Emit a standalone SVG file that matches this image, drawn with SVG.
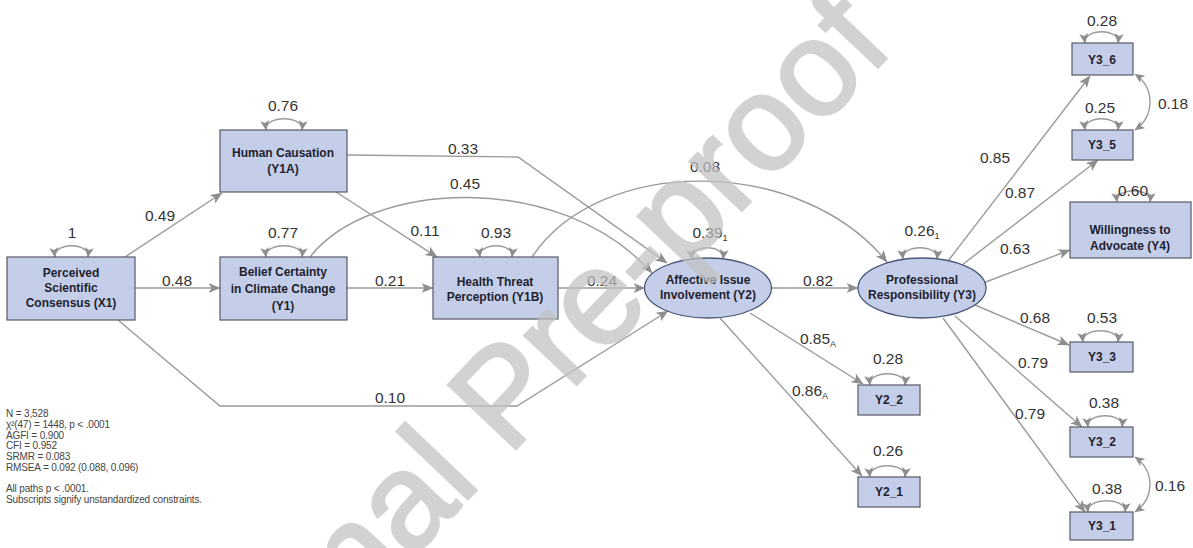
<svg xmlns="http://www.w3.org/2000/svg" width="1193" height="548" viewBox="0 0 1193 548">
<style>
.nd{fill:#c5cee9;stroke:#555a66;stroke-width:1.2}
.el{fill:#c5cee9;stroke:#4a587a;stroke-width:1.3}
.nt{font-family:"Liberation Sans",Arial,sans-serif;font-size:12px;font-weight:bold;fill:#1e2230;text-anchor:middle}
.ed{fill:none;stroke:#9a9a9a;stroke-width:1.4;marker-end:url(#ah)}
.lp{fill:none;stroke:#9a9a9a;stroke-width:1.4;marker-start:url(#ahs);marker-end:url(#ahs)}
.lb{font-family:"Liberation Sans",Arial,sans-serif;font-size:15.5px;fill:#333;text-anchor:middle}
.st{font-family:"Liberation Sans",Arial,sans-serif;font-size:10px;letter-spacing:-0.15px;fill:#444}
.wm{font-family:"Liberation Sans",Arial,sans-serif;font-size:135px;fill:#c2c2c2;stroke:#c2c2c2;stroke-width:3;opacity:0.72}
</style>
<defs>
<marker id="ah" viewBox="0 0 12 10" refX="11.5" refY="5" markerWidth="12" markerHeight="10" markerUnits="userSpaceOnUse" orient="auto-start-reverse"><path d="M0,0 L12,5 L0,10 L3,5 z" fill="#8e8e8e"/></marker>
<marker id="ahs" viewBox="0 0 10 9" refX="9.5" refY="4.5" markerWidth="10" markerHeight="9" markerUnits="userSpaceOnUse" orient="auto-start-reverse"><path d="M0,0 L10,4.5 L0,9 L2.5,4.5 z" fill="#8e8e8e"/></marker>
</defs>
<rect width="1193" height="548" fill="#ffffff"/>

<g id="connectors">
<path class="ed" d="M125,257 L222,193"/>
<path class="ed" d="M135,288 L220,288"/>
<path class="ed" d="M347,288 L433,288"/>
<path class="ed" d="M336,192 L437,257"/>
<path class="ed" d="M347,155 L518,157 L667,263"/>
<path class="ed" d="M310,257 C370,180 560,170 652,273"/>
<path class="ed" d="M532,257 C600,155 800,155 887,262"/>
<path class="ed" d="M558,288 L645,288"/>
<path class="ed" d="M118,320 L220,406 L517,406 L668,311"/>
<path class="ed" d="M772,288 L858,288"/>
<path class="ed" d="M750,313 L863,384"/>
<path class="ed" d="M720,318 L862,476"/>
<path class="ed" d="M948,261 L1090,76"/>
<path class="ed" d="M962,265 L1098,160"/>
<path class="ed" d="M983,283 L1070,250"/>
<path class="ed" d="M975,305 L1069,345"/>
<path class="ed" d="M955,316 L1082,427"/>
<path class="ed" d="M943,318 L1085,512"/>
<!-- variances -->
<path class="lp" d="M55,257 C53,242 90,242 88,257"/>
<path class="lp" d="M266,130 C264,115 304,115 302,130"/>
<path class="lp" d="M266,257 C264,242 304,242 302,257"/>
<path class="lp" d="M480,257 C478,242 514,242 512,257"/>
<path class="lp" d="M692,259 C690,244 725,244 723,259"/>
<path class="lp" d="M903,259 C901,244 939,244 937,259"/>
<path class="lp" d="M1085,43 C1083,28 1120,28 1118,43"/>
<path class="lp" d="M1085,130 C1083,115 1120,115 1118,130"/>
<path class="lp" d="M1117,202 C1115,187 1152,187 1150,202"/>
<path class="lp" d="M1083,342 C1081,327 1120,327 1118,342"/>
<path class="lp" d="M1088,427 C1086,412 1124,412 1122,427"/>
<path class="lp" d="M1088,512 C1086,497 1127,497 1125,512"/>
<path class="lp" d="M870,385 C868,370 907,370 905,385"/>
<path class="lp" d="M870,477 C868,462 907,462 905,477"/>
<!-- covariances -->
<path class="lp" d="M1135,74 C1155,88 1155,116 1135,130"/>
<path class="lp" d="M1135,457 C1155,471 1155,498 1135,512"/>
</g>

<g id="labels">
<text class="lb" x="160" y="221">0.49</text>
<text class="lb" x="177" y="286">0.48</text>
<text class="lb" x="390" y="286">0.21</text>
<text class="lb" x="425" y="236">0.11</text>
<text class="lb" x="463" y="154">0.33</text>
<text class="lb" x="465" y="189">0.45</text>
<text class="lb" x="705" y="172">0.08</text>
<text class="lb" x="602" y="286">0.24</text>
<text class="lb" x="818" y="286">0.82</text>
<text class="lb" x="390" y="403">0.10</text>
<text class="lb" x="818" y="344">0.85<tspan font-size="9" dy="3">A</tspan></text>
<text class="lb" x="810" y="396">0.86<tspan font-size="9" dy="3">A</tspan></text>
<text class="lb" x="995" y="163">0.85</text>
<text class="lb" x="1020" y="198">0.87</text>
<text class="lb" x="1015" y="254">0.63</text>
<text class="lb" x="1035" y="323">0.68</text>
<text class="lb" x="1033" y="368">0.79</text>
<text class="lb" x="1030" y="419">0.79</text>
<text class="lb" x="72" y="238">1</text>
<text class="lb" x="283" y="111">0.76</text>
<text class="lb" x="283" y="238">0.77</text>
<text class="lb" x="496" y="238">0.93</text>
<text class="lb" x="710" y="238">0.39<tspan font-size="9" dy="3">1</tspan></text>
<text class="lb" x="922" y="236">0.26<tspan font-size="9" dy="3">1</tspan></text>
<text class="lb" x="1102" y="26">0.28</text>
<text class="lb" x="1100" y="113">0.25</text>
<text class="lb" x="1173" y="109">0.18</text>
<text class="lb" x="1133" y="196">0.60</text>
<text class="lb" x="1102" y="323">0.53</text>
<text class="lb" x="1104" y="408">0.38</text>
<text class="lb" x="1107" y="494">0.38</text>
<text class="lb" x="1170" y="491">0.16</text>
<text class="lb" x="888" y="364">0.28</text>
<text class="lb" x="888" y="456">0.26</text>
</g>

<g id="n-x1"><rect class="nd" x="7" y="257" width="128" height="63"/>
<text class="nt" x="71" y="277">Perceived</text><text class="nt" x="71" y="292">Scientific</text><text class="nt" x="71" y="307">Consensus (X1)</text></g>
<g id="n-y1a"><rect class="nd" x="220" y="130" width="127" height="62"/>
<text class="nt" x="283" y="157">Human Causation</text><text class="nt" x="283" y="173">(Y1A)</text></g>
<g id="n-y1"><rect class="nd" x="220" y="257" width="127" height="63"/>
<text class="nt" x="283" y="276">Belief Certainty</text><text class="nt" x="283" y="293">in Climate Change</text><text class="nt" x="283" y="310">(Y1)</text></g>
<g id="n-y1b"><rect class="nd" x="433" y="257" width="125" height="62"/>
<text class="nt" x="495" y="286">Health Threat</text><text class="nt" x="495" y="301">Perception (Y1B)</text></g>
<g id="n-y2"><ellipse class="el" cx="708" cy="288" rx="63.5" ry="30"/>
<text class="nt" x="708" y="284">Affective Issue</text><text class="nt" x="708" y="299">Involvement (Y2)</text></g>
<g id="n-y3"><ellipse class="el" cx="922" cy="288" rx="64" ry="30"/>
<text class="nt" x="922" y="284">Professional</text><text class="nt" x="922" y="299">Responsibility (Y3)</text></g>
<g id="n-y4"><rect class="nd" x="1070" y="202" width="121" height="56"/>
<text class="nt" x="1130" y="234">Willingness to</text><text class="nt" x="1130" y="250">Advocate (Y4)</text></g>
<g id="n-y3_6"><rect class="nd" x="1072" y="43" width="61" height="32"/><text class="nt" x="1102" y="64">Y3_6</text></g>
<g id="n-y3_5"><rect class="nd" x="1072" y="130" width="61" height="30"/><text class="nt" x="1102" y="149">Y3_5</text></g>
<g id="n-y3_3"><rect class="nd" x="1070" y="342" width="63" height="30"/><text class="nt" x="1102" y="361">Y3_3</text></g>
<g id="n-y3_2"><rect class="nd" x="1070" y="427" width="63" height="30"/><text class="nt" x="1102" y="446">Y3_2</text></g>
<g id="n-y3_1"><rect class="nd" x="1070" y="512" width="63" height="28"/><text class="nt" x="1102" y="530">Y3_1</text></g>
<g id="n-y2_2"><rect class="nd" x="858" y="385" width="62" height="30"/><text class="nt" x="889" y="404">Y2_2</text></g>
<g id="n-y2_1"><rect class="nd" x="858" y="477" width="62" height="30"/><text class="nt" x="889" y="496">Y2_1</text></g>

<g id="stats">
<text class="st" x="6" y="417">N = 3,528</text>
<text class="st" x="6" y="428">χ²(47) = 1448, p &lt; .0001</text>
<text class="st" x="6" y="438.5">AGFI = 0.900</text>
<text class="st" x="6" y="449">CFI = 0.952</text>
<text class="st" x="6" y="460">SRMR = 0.083</text>
<text class="st" x="6" y="470.5">RMSEA = 0.092 (0.088, 0.096)</text>
<text class="st" x="6" y="492">All paths p &lt; .0001.</text>
<text class="st" x="6" y="503">Subscripts signify unstandardized constraints.</text>
</g>

<g id="watermark"><text class="wm" x="177.7" y="805" transform="rotate(-46.5 177.7 805)">Journal Pre-proof</text></g>
</svg>
